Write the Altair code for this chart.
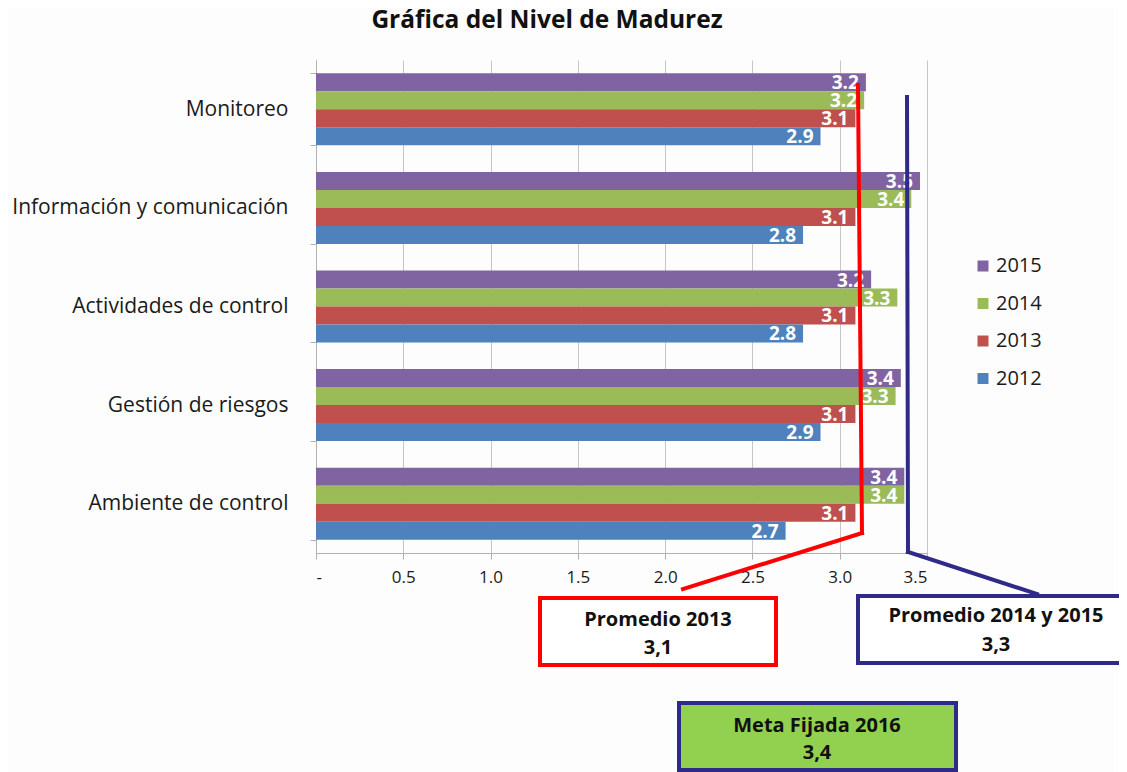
import altair as alt
import pandas as pd

categories = ["Monitoreo", "Información y comunicación", "Actividades de control",
              "Gestión de riesgos", "Ambiente de control"]
years = ["2015", "2014", "2013", "2012"]
colors = ["#8064A2", "#9BBB59", "#C0504D", "#4F81BD"]

v2015 = [3.15, 3.46, 3.18, 3.35, 3.37]
v2014 = [3.14, 3.41, 3.33, 3.32, 3.37]
v2013 = [3.09, 3.09, 3.09, 3.09, 3.09]
v2012 = [2.89, 2.79, 2.79, 2.89, 2.69]

l2015 = ["3.2", "3.5", "3.2", "3.4", "3.4"]
l2014 = ["3.2", "3.4", "3.3", "3.3", "3.4"]
l2013 = ["3.1", "3.1", "3.1", "3.1", "3.1"]
l2012 = ["2.9", "2.8", "2.8", "2.9", "2.7"]

x_ticks = [0, 0.5, 1.0, 1.5, 2.0, 2.5, 3.0, 3.5]

title_text = "Gráfica del Nivel de Madurez"
box_red = ["Promedio 2013", "3,1"]
box_navy = ["Promedio 2014 y 2015", "3,3"]
box_green = ["Meta Fijada 2016", "3,4"]

rows = []
for yr, vals, labs in zip(years, [v2015, v2014, v2013, v2012], [l2015, l2014, l2013, l2012]):
    for c, v, l in zip(categories, vals, labs):
        rows.append({"cat": c, "year": yr, "value": v, "label": l})
df = pd.DataFrame(rows)

FONT = "Open Sans"
GRAY = "#b0b0b0"
RED = "#FF0000"
NAVY = "#2E2A87"

x_enc = alt.X("value:Q",
              scale=alt.Scale(domain=[0, 3.5], nice=False, zero=True),
              axis=alt.Axis(values=x_ticks, title=None, grid=True, gridColor="#c6c6c6",
                            labelExpr="datum.value == 0 ? '-' : format(datum.value, '.1f')",
                            tickSize=6, tickColor=GRAY, domainColor=GRAY,
                            labelFont=FONT, labelFontSize=17, labelColor="#1a1a1a",
                            labelPadding=10))
y_enc = alt.Y("cat:N", sort=categories,
              scale=alt.Scale(paddingInner=0.27, paddingOuter=0.135),
              axis=alt.Axis(title=None, tickBand="extent", tickSize=6, tickColor=GRAY,
                            domainColor=GRAY, labelFont=FONT, labelFontSize=21,
                            labelColor="#1a1a1a", labelPadding=22, labelLimit=400))
yoff_enc = alt.YOffset("year:N", sort=years, scale=alt.Scale(domain=years))

base = alt.Chart(df)
bars = base.mark_bar().encode(
    x=x_enc, y=y_enc, yOffset=yoff_enc,
    color=alt.Color("year:N", scale=alt.Scale(domain=years, range=colors),
                    legend=alt.Legend(title=None, orient="none", legendX=657, legendY=196,
                                      symbolType="square", symbolSize=121,
                                      labelFont=FONT, labelFontSize=20, labelColor="#1a1a1a",
                                      rowPadding=17.5, labelOffset=3, padding=0,
                                      symbolStrokeWidth=0)),
)
labels = base.mark_text(align="right", baseline="middle", dx=-7, dy=1, color="white",
                        fontWeight="bold", fontSize=19, font=FONT).encode(
    x=x_enc, y=y_enc, yOffset=yoff_enc, text="label:N")

one = pd.DataFrame({"a": [0]})


def rule(x1, y1, x2, y2, color, cap="square"):
    return alt.Chart(one).mark_rule(color=color, strokeWidth=4, strokeCap=cap).encode(
        x=alt.value(x1), y=alt.value(y1), x2=alt.value(x2), y2=alt.value(y2))


def box(x1, y1, x2, y2, stroke, fill):
    return alt.Chart(one).mark_rect(stroke=stroke, strokeWidth=4, fill=fill).encode(
        x=alt.value(x1), y=alt.value(y1), x2=alt.value(x2), y2=alt.value(y2))


def fillrect(x1, y1, x2, y2, fill):
    return alt.Chart(one).mark_rect(fill=fill).encode(
        x=alt.value(x1), y=alt.value(y1), x2=alt.value(x2), y2=alt.value(y2))


def txt(x, y, s, size, baseline="middle"):
    return alt.Chart(one).mark_text(text=s, font=FONT, fontWeight="bold", fontSize=size,
                                    color="#111111", align="center", baseline=baseline).encode(
        x=alt.value(x), y=alt.value(y))


layers = [
    bars, labels,
    rule(542, 25, 546, 473, RED), rule(546, 473, 367, 529, RED),
    rule(591, 37, 592, 492, NAVY), rule(592, 492, 721, 534, NAVY),
    box(224, 538, 460, 605, RED, "white"),
    fillrect(542, 536, 811, 603, "white"),
    rule(542, 536, 811, 536, NAVY), rule(542, 603, 811, 603, NAVY),
    rule(542, 536, 542, 603, NAVY),
    box(363, 643, 640, 710, NAVY, "#92D050"),
    txt(342, 560, box_red[0], 20), txt(342, 588, box_red[1], 20),
    txt(680, 556, box_navy[0], 20), txt(680, 585, box_navy[1], 20),
    txt(501, 666, box_green[0], 20), txt(501, 693, box_green[1], 20),
    txt(231, -32, title_text, 24.5, "alphabetic"),
]

chart = alt.layer(*layers).properties(
    width=611, height=493,
    autosize=alt.AutoSizeParams(type="none"),
    padding={"left": 308, "top": 52, "right": 192, "bottom": 230},
    background="#fdfdfd",
).configure_view(strokeWidth=0)

chart.save("out.html", embed_options={"renderer": "svg", "actions": False})
